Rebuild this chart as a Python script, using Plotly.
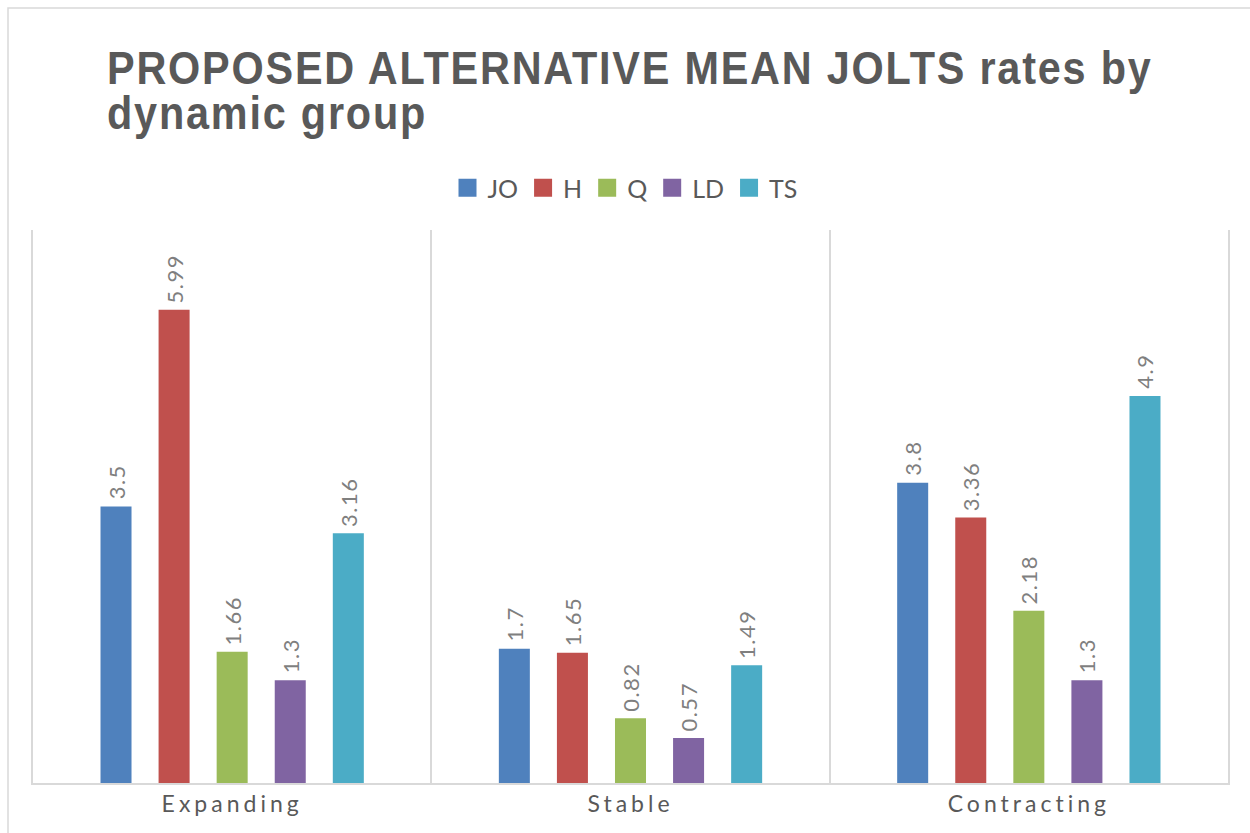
import plotly.graph_objects as go

categories = ["Expanding", "Stable", "Contracting"]
series_names = ["JO", "H", "Q", "LD", "TS"]
jo = [3.5, 1.7, 3.8]
h = [5.99, 1.65, 3.36]
q = [1.66, 0.82, 2.18]
ld = [1.3, 0.57, 1.3]
ts = [3.16, 1.49, 4.9]
values = [jo, h, q, ld, ts]
colors = ["#4F81BD", "#C0504D", "#9BBB59", "#8064A2", "#4BACC6"]

fig = go.Figure()
for name, vals, col in zip(series_names, values, colors):
    fig.add_trace(go.Bar(
        x=categories, y=vals, name=name,
        marker=dict(color=col, line=dict(width=0)),
        text=[str(v) for v in vals],
        texttemplate="\u00a0%{text}",
        textposition="outside", textangle=-90, cliponaxis=False,
        constraintext="none",
        textfont=dict(family="Lato", size=22, color="#7f7f7f"),
    ))

W, H = 1250, 833
L, R, T, B = 33, 22, 230, 50
pw, ph = W - L - R, H - T - B

fig.update_layout(
    width=W, height=H,
    margin=dict(l=L, r=R, t=T, b=B, pad=0),
    paper_bgcolor="white", plot_bgcolor="white",
    barmode="group", bargap=0.271, bargroupgap=0.466,
    title=dict(
        text="<b>PROPOSED ALTERNATIVE MEAN JOLTS rates by<br>dynamic group</b>",
        x=107 / W, xref="container", xanchor="left",
        y=1 - 84 / H, yref="container", yanchor="top",
        font=dict(family="Liberation Sans", size=46, color="#595959"),
    ),
    legend=dict(
        orientation="h", x=0.5 - (L - R) / 2 / pw, xanchor="center",
        y=1 + (783 - 188 - ph) / ph, yanchor="middle",
        font=dict(family="Lato", size=25, color="#595959"),
        traceorder="normal",
    ),
    xaxis=dict(
        type="category", tickson="boundaries", showgrid=True,
        gridcolor="#d9d9d9", gridwidth=1.5,
        showline=True, linecolor="#d9d9d9", linewidth=1.5,
        ticks="", tickfont=dict(family="Lato", size=23, color="#595959"),
        range=[-0.5, 2.5],
    ),
    yaxis=dict(
        range=[0, 7], showticklabels=False, showgrid=False, zeroline=False,
        showline=True, linecolor="#d9d9d9", linewidth=1.5, mirror=True, ticks="",
    ),
    shapes=[dict(
        type="rect", xref="paper", yref="paper",
        x0=(8 - L) / pw, x1=(W + 20 - L) / pw,
        y0=-(B + 20) / ph, y1=(783 - 8) / ph,
        line=dict(color="#d9d9d9", width=1.5), fillcolor="rgba(0,0,0,0)", layer="below",
    )],
)

post = """
var gd = document.getElementById('{plot_id}');
function tweak(){
  gd.querySelectorAll('.xtick text').forEach(function(t){t.style.letterSpacing='4px';});
  gd.querySelectorAll('.bartext').forEach(function(t){t.style.letterSpacing='1.5px';});
  var tt = gd.querySelector('.gtitle');
  if (tt) {
    tt.style.letterSpacing = '2px';
    var lines = tt.querySelectorAll('tspan.line');
    lines.forEach(function(ln, i){ if (i > 0) ln.setAttribute('dy', '0.98em'); });
    var x0 = parseFloat(tt.getAttribute('x')), y0 = parseFloat(tt.getAttribute('y'));
    tt.setAttribute('transform', 'translate(' + x0 + ',' + y0 + ') scale(0.90,1) translate(' + (-x0) + ',' + (-y0) + ')');
  }
  gd.querySelectorAll('.legend .legendpoints path').forEach(function(p){ p.setAttribute('d', 'M9,9H-9V-9H9Z'); });
}
tweak();
if (gd.on) { gd.on('plotly_afterplot', tweak); }
setTimeout(tweak, 300);
setTimeout(tweak, 1000);
"""
fig.write_html("out.html", post_script=post)
